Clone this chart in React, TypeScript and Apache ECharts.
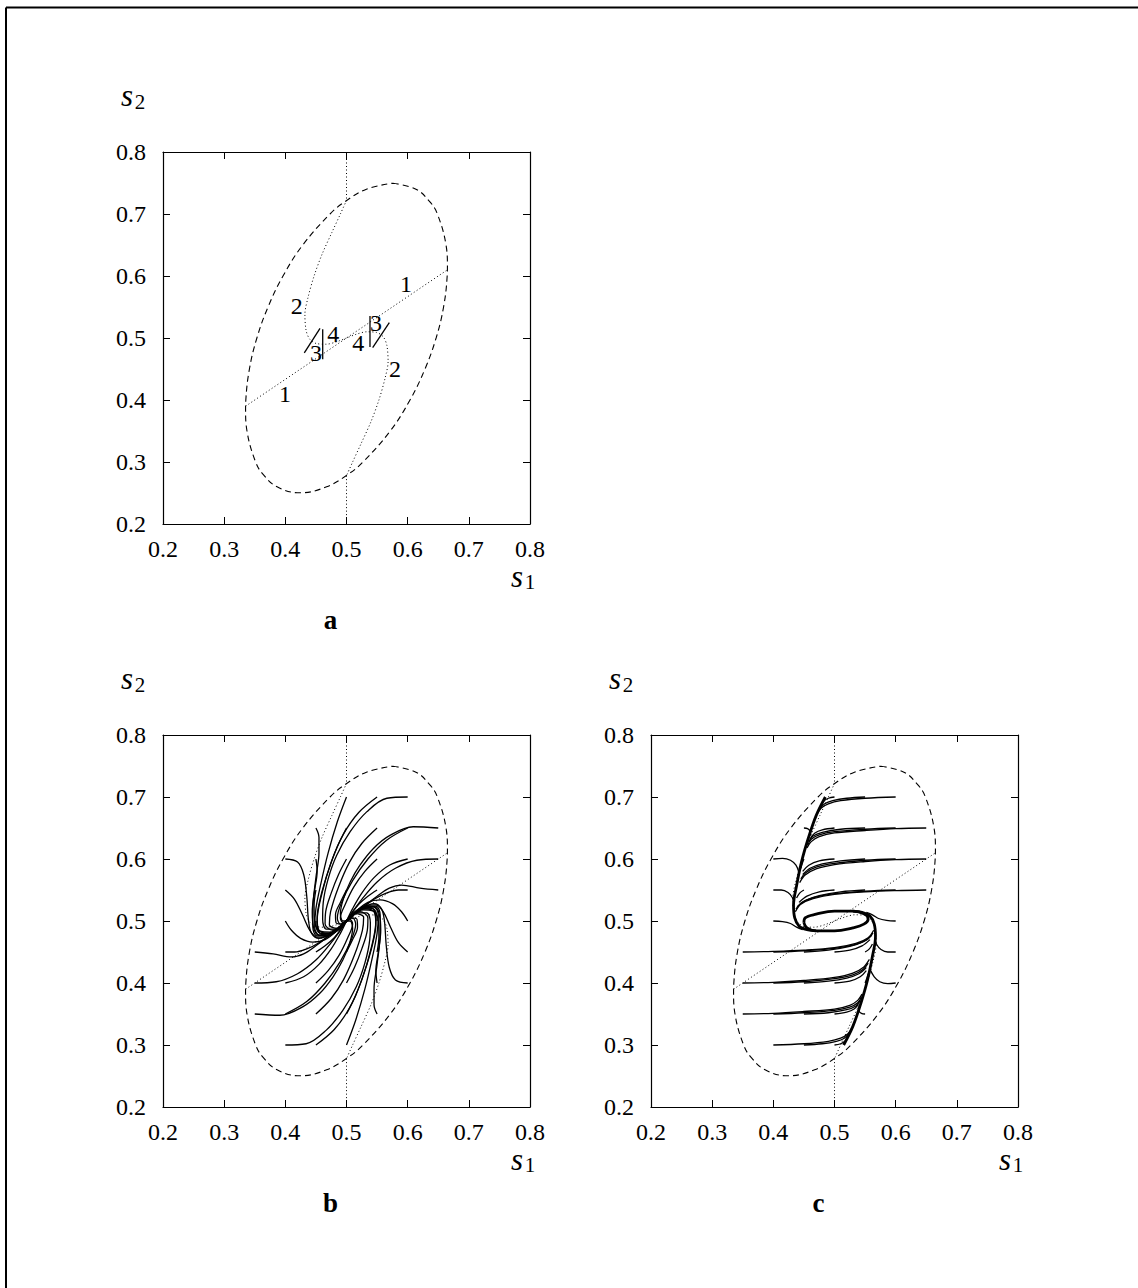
import React, { useEffect, useRef } from "react";
import * as echarts from "echarts";

type Pt = [number, number];

// Shared axis range of the three phase portraits
const AXIS_MIN = 0.2;
const AXIS_MAX = 0.8;
const AXIS_STEP = 0.1;

// Boundary of the admissible region (dashed ellipse)
const boundary: Pt[] = [
  [0.576, 0.7497], [0.6135, 0.74], [0.636, 0.72], [0.6486, 0.7], [0.6627, 0.65],
  [0.665, 0.615], [0.6646, 0.6], [0.6587, 0.55], [0.6465, 0.5], [0.6283, 0.45],
  [0.6038, 0.4], [0.5715, 0.35], [0.5269, 0.3], [0.5024, 0.28], [0.4675, 0.26],
  [0.424, 0.2503], [0.3865, 0.26], [0.3637, 0.28], [0.3514, 0.3], [0.3373, 0.35],
  [0.335, 0.385], [0.3354, 0.4], [0.3413, 0.45], [0.3535, 0.5], [0.3717, 0.55],
  [0.3962, 0.6], [0.4285, 0.65], [0.4731, 0.7], [0.4976, 0.72], [0.5325, 0.74],
  [0.576, 0.7497],
];

// Dotted reference curves
const verticalTop: Pt[] = [[0.5, 0.8], [0.5, 0.722]];
const verticalBottom: Pt[] = [[0.5, 0.278], [0.5, 0.2]];
const line1: Pt[] = [[0.335, 0.39], [0.665, 0.61]];
const curve2: Pt[] = [
  [0.5, 0.722], [0.49, 0.7], [0.476, 0.67], [0.46, 0.635], [0.447, 0.6],
  [0.437, 0.565], [0.432, 0.538], [0.434, 0.512], [0.44, 0.498], [0.451, 0.491],
  [0.467, 0.49], [0.484, 0.494], [0.5, 0.5], [0.516, 0.506], [0.533, 0.51],
  [0.549, 0.509], [0.56, 0.502], [0.566, 0.488], [0.568, 0.462], [0.563, 0.435],
  [0.553, 0.4], [0.54, 0.365], [0.524, 0.33], [0.51, 0.3], [0.5, 0.278],
];

// Short solid segments 3 and 4 (panel a)
const markerSegments: Pt[][] = [
  [[0.431, 0.476], [0.4567, 0.5156]],
  [[0.4611, 0.4656], [0.4611, 0.514]],
  [[0.5384, 0.4855], [0.5384, 0.5355]],
  [[0.5428, 0.4844], [0.57, 0.5247]],
];

// Curve numbers written in panel a
const curveLabels: [number, number, string][] = [
  [0.5973, 0.587, "1"],
  [0.3995, 0.4092, "1"],
  [0.4186, 0.5516, "2"],
  [0.5793, 0.4495, "2"],
  [0.4501, 0.4763, "3"],
  [0.5482, 0.5247, "3"],
  [0.4784, 0.506, "4"],
  [0.5193, 0.4924, "4"],
];

// Panel b: trajectories spiralling into the stable focus
const trajectoriesB: Pt[][] = [
  [[0.5, 0.7], [0.485, 0.66], [0.47, 0.61], [0.458, 0.56], [0.45, 0.52], [0.448, 0.49], [0.456, 0.477], [0.475, 0.479], [0.5, 0.5]],
  [[0.55, 0.7], [0.52, 0.675], [0.495, 0.64], [0.475, 0.595], [0.46, 0.545], [0.452, 0.5], [0.458, 0.48], [0.478, 0.481], [0.5, 0.5]],
  [[0.6, 0.7], [0.566, 0.698], [0.533, 0.676], [0.506, 0.644], [0.484, 0.606], [0.47, 0.568], [0.462, 0.53], [0.461, 0.503], [0.467, 0.487], [0.484, 0.487], [0.5, 0.5]],
  [[0.45, 0.65], [0.455, 0.635], [0.455, 0.61], [0.45, 0.57], [0.445, 0.52], [0.445, 0.49], [0.452, 0.476], [0.47, 0.476], [0.49, 0.49], [0.5, 0.5]],
  [[0.5, 0.65], [0.485, 0.62], [0.47, 0.58], [0.458, 0.54], [0.452, 0.505], [0.455, 0.485], [0.472, 0.48], [0.5, 0.5]],
  [[0.55, 0.65], [0.525, 0.625], [0.505, 0.595], [0.487, 0.555], [0.474, 0.515], [0.472, 0.494], [0.485, 0.488], [0.5, 0.5]],
  [[0.6, 0.65], [0.565, 0.63], [0.535, 0.6], [0.51, 0.565], [0.492, 0.53], [0.485, 0.505], [0.49, 0.495], [0.5, 0.5]],
  [[0.65, 0.65], [0.609, 0.652], [0.571, 0.638], [0.544, 0.617], [0.522, 0.59], [0.506, 0.563], [0.495, 0.536], [0.49, 0.512], [0.494, 0.5], [0.5, 0.5]],
  [[0.4, 0.6], [0.42, 0.595], [0.43, 0.575], [0.435, 0.54], [0.438, 0.5], [0.443, 0.48], [0.455, 0.472], [0.475, 0.48], [0.5, 0.5]],
  [[0.45, 0.6], [0.452, 0.58], [0.448, 0.55], [0.444, 0.515], [0.446, 0.49], [0.455, 0.477], [0.475, 0.479], [0.5, 0.5]],
  [[0.5, 0.6], [0.487, 0.575], [0.475, 0.545], [0.466, 0.515], [0.465, 0.495], [0.478, 0.485], [0.5, 0.5]],
  [[0.55, 0.6], [0.53, 0.58], [0.512, 0.555], [0.498, 0.527], [0.49, 0.505], [0.495, 0.497], [0.5, 0.5]],
  [[0.6, 0.6], [0.57, 0.59], [0.545, 0.57], [0.525, 0.545], [0.51, 0.52], [0.5, 0.5]],
  [[0.65, 0.6], [0.615, 0.598], [0.58, 0.585], [0.55, 0.563], [0.525, 0.535], [0.508, 0.512], [0.5, 0.5]],
  [[0.4, 0.55], [0.415, 0.535], [0.428, 0.51], [0.44, 0.485], [0.452, 0.474], [0.47, 0.476], [0.49, 0.49], [0.5, 0.5]],
  [[0.45, 0.55], [0.447, 0.525], [0.448, 0.5], [0.456, 0.484], [0.475, 0.482], [0.5, 0.5]],
  [[0.5, 0.55], [0.49, 0.53], [0.482, 0.51], [0.483, 0.497], [0.493, 0.495], [0.5, 0.5]],
  [[0.55, 0.55], [0.535, 0.54], [0.52, 0.527], [0.508, 0.512], [0.5, 0.5]],
  [[0.6, 0.55], [0.585, 0.55], [0.565, 0.545], [0.545, 0.535], [0.525, 0.52], [0.5, 0.5]],
  [[0.65, 0.55], [0.62, 0.553], [0.59, 0.558], [0.57, 0.553], [0.55, 0.54], [0.53, 0.525], [0.512, 0.51], [0.5, 0.5]],
  [[0.4, 0.5], [0.41, 0.485], [0.425, 0.472], [0.445, 0.466], [0.465, 0.47], [0.485, 0.485], [0.5, 0.5]],
  [[0.45, 0.5], [0.452, 0.485], [0.462, 0.478], [0.48, 0.484], [0.5, 0.5]],
  [[0.55, 0.5], [0.548, 0.515], [0.538, 0.522], [0.52, 0.516], [0.5, 0.5]],
  [[0.6, 0.5], [0.59, 0.515], [0.575, 0.528], [0.555, 0.534], [0.535, 0.53], [0.515, 0.515], [0.5, 0.5]],
  [[0.35, 0.45], [0.38, 0.447], [0.41, 0.442], [0.43, 0.447], [0.45, 0.46], [0.47, 0.475], [0.488, 0.49], [0.5, 0.5]],
  [[0.4, 0.45], [0.415, 0.45], [0.435, 0.455], [0.455, 0.465], [0.475, 0.48], [0.5, 0.5]],
  [[0.45, 0.45], [0.465, 0.46], [0.48, 0.473], [0.492, 0.488], [0.5, 0.5]],
  [[0.5, 0.45], [0.51, 0.47], [0.518, 0.49], [0.517, 0.503], [0.507, 0.505], [0.5, 0.5]],
  [[0.55, 0.45], [0.553, 0.475], [0.552, 0.5], [0.544, 0.516], [0.525, 0.518], [0.5, 0.5]],
  [[0.6, 0.45], [0.585, 0.465], [0.572, 0.49], [0.56, 0.515], [0.548, 0.526], [0.53, 0.524], [0.51, 0.51], [0.5, 0.5]],
  [[0.35, 0.4], [0.385, 0.402], [0.42, 0.415], [0.45, 0.437], [0.475, 0.465], [0.492, 0.488], [0.5, 0.5]],
  [[0.4, 0.4], [0.43, 0.41], [0.455, 0.43], [0.475, 0.455], [0.49, 0.48], [0.5, 0.5]],
  [[0.45, 0.4], [0.47, 0.42], [0.488, 0.445], [0.502, 0.473], [0.51, 0.495], [0.505, 0.503], [0.5, 0.5]],
  [[0.5, 0.4], [0.513, 0.425], [0.525, 0.455], [0.534, 0.485], [0.535, 0.505], [0.522, 0.515], [0.5, 0.5]],
  [[0.55, 0.4], [0.548, 0.42], [0.552, 0.45], [0.556, 0.485], [0.554, 0.51], [0.545, 0.523], [0.525, 0.521], [0.5, 0.5]],
  [[0.6, 0.4], [0.58, 0.405], [0.57, 0.425], [0.565, 0.46], [0.562, 0.5], [0.557, 0.52], [0.545, 0.528], [0.525, 0.52], [0.5, 0.5]],
  [[0.35, 0.35], [0.391, 0.348], [0.429, 0.362], [0.456, 0.383], [0.478, 0.41], [0.494, 0.437], [0.505, 0.464], [0.51, 0.488], [0.506, 0.5], [0.5, 0.5]],
  [[0.4, 0.35], [0.435, 0.37], [0.465, 0.4], [0.49, 0.435], [0.508, 0.47], [0.515, 0.495], [0.51, 0.505], [0.5, 0.5]],
  [[0.45, 0.35], [0.475, 0.375], [0.495, 0.405], [0.513, 0.445], [0.526, 0.485], [0.528, 0.506], [0.515, 0.512], [0.5, 0.5]],
  [[0.5, 0.35], [0.515, 0.38], [0.53, 0.42], [0.542, 0.46], [0.548, 0.495], [0.545, 0.515], [0.528, 0.52], [0.5, 0.5]],
  [[0.55, 0.35], [0.545, 0.365], [0.545, 0.39], [0.55, 0.43], [0.555, 0.48], [0.555, 0.51], [0.548, 0.524], [0.53, 0.524], [0.51, 0.51], [0.5, 0.5]],
  [[0.4, 0.3], [0.434, 0.302], [0.467, 0.324], [0.494, 0.356], [0.516, 0.394], [0.53, 0.432], [0.538, 0.47], [0.539, 0.497], [0.533, 0.513], [0.516, 0.513], [0.5, 0.5]],
  [[0.45, 0.3], [0.48, 0.325], [0.505, 0.36], [0.525, 0.405], [0.54, 0.455], [0.548, 0.5], [0.542, 0.52], [0.522, 0.519], [0.5, 0.5]],
  [[0.5, 0.3], [0.515, 0.34], [0.53, 0.39], [0.542, 0.44], [0.55, 0.48], [0.552, 0.51], [0.544, 0.523], [0.525, 0.521], [0.5, 0.5]],
];

// Panel c: thick slow manifold and limit cycle
const attractorUpper: Pt[] = [
  [0.485, 0.7], [0.47, 0.67], [0.457, 0.633], [0.446, 0.595], [0.438, 0.557],
  [0.433, 0.525], [0.435, 0.505], [0.442, 0.492], [0.455, 0.486], [0.47, 0.484],
];
const attractorLower: Pt[] = [
  [0.515, 0.3], [0.53, 0.33], [0.543, 0.367], [0.554, 0.405], [0.562, 0.443],
  [0.567, 0.475], [0.565, 0.495], [0.558, 0.508], [0.545, 0.514], [0.53, 0.516],
];
const limitCycle: Pt[] = [
  [0.45, 0.497], [0.455, 0.489], [0.47, 0.484], [0.5, 0.484], [0.53, 0.489],
  [0.548, 0.495], [0.555, 0.503], [0.55, 0.511], [0.53, 0.516], [0.5, 0.516],
  [0.47, 0.511], [0.452, 0.505], [0.45, 0.497],
];

// Panel c: trajectories relaxing onto the slow manifold
const trajectoriesC: Pt[][] = [
  [[0.6, 0.7], [0.55, 0.698], [0.51, 0.694], [0.49, 0.689], [0.478, 0.682], [0.472, 0.673]],
  [[0.55, 0.7], [0.52, 0.698], [0.497, 0.694], [0.484, 0.689], [0.476, 0.681]],
  [[0.5, 0.7], [0.49, 0.698], [0.483, 0.694], [0.479, 0.688]],
  [[0.65, 0.65], [0.6, 0.649], [0.55, 0.646], [0.5, 0.642], [0.475, 0.636], [0.462, 0.628], [0.455, 0.618]],
  [[0.6, 0.65], [0.55, 0.648], [0.5, 0.644], [0.475, 0.639], [0.462, 0.632], [0.456, 0.622]],
  [[0.55, 0.65], [0.51, 0.648], [0.48, 0.643], [0.465, 0.637], [0.458, 0.628]],
  [[0.5, 0.65], [0.48, 0.647], [0.468, 0.642], [0.461, 0.634]],
  [[0.45, 0.65], [0.456, 0.649], [0.46, 0.645], [0.461, 0.638]],
  [[0.65, 0.6], [0.6, 0.599], [0.55, 0.596], [0.5, 0.591], [0.47, 0.584], [0.452, 0.574], [0.443, 0.562]],
  [[0.6, 0.6], [0.55, 0.598], [0.5, 0.593], [0.47, 0.587], [0.453, 0.578], [0.445, 0.568]],
  [[0.55, 0.6], [0.51, 0.597], [0.48, 0.592], [0.46, 0.585], [0.448, 0.575]],
  [[0.5, 0.6], [0.475, 0.597], [0.458, 0.59], [0.448, 0.58]],
  [[0.45, 0.6], [0.447, 0.592], [0.445, 0.585]],
  [[0.4, 0.6], [0.415, 0.601], [0.428, 0.598], [0.437, 0.59], [0.442, 0.578]],
  [[0.65, 0.55], [0.6, 0.549], [0.55, 0.547], [0.5, 0.543], [0.465, 0.536], [0.445, 0.527], [0.436, 0.515]],
  [[0.6, 0.55], [0.55, 0.548], [0.5, 0.544], [0.467, 0.538], [0.447, 0.53], [0.437, 0.519]],
  [[0.55, 0.55], [0.51, 0.547], [0.475, 0.541], [0.452, 0.533], [0.439, 0.523]],
  [[0.5, 0.55], [0.475, 0.547], [0.455, 0.54], [0.442, 0.53]],
  [[0.45, 0.55], [0.443, 0.545], [0.438, 0.537]],
  [[0.4, 0.55], [0.413, 0.55], [0.424, 0.546], [0.431, 0.538], [0.434, 0.528]],
  [[0.4, 0.5], [0.415, 0.499], [0.428, 0.496], [0.438, 0.49], [0.448, 0.486]],
  [[0.6, 0.5], [0.585, 0.501], [0.572, 0.504], [0.562, 0.51], [0.552, 0.514]],
  [[0.35, 0.45], [0.4, 0.451], [0.45, 0.453], [0.5, 0.457], [0.535, 0.464], [0.555, 0.473], [0.564, 0.485]],
  [[0.4, 0.45], [0.45, 0.452], [0.5, 0.456], [0.533, 0.462], [0.553, 0.47], [0.563, 0.481]],
  [[0.45, 0.45], [0.49, 0.453], [0.525, 0.459], [0.548, 0.467], [0.561, 0.477]],
  [[0.5, 0.45], [0.525, 0.453], [0.545, 0.46], [0.558, 0.47]],
  [[0.55, 0.45], [0.557, 0.455], [0.562, 0.463]],
  [[0.6, 0.45], [0.587, 0.45], [0.576, 0.454], [0.569, 0.462], [0.566, 0.472]],
  [[0.35, 0.4], [0.4, 0.401], [0.45, 0.404], [0.5, 0.409], [0.53, 0.416], [0.548, 0.426], [0.557, 0.438]],
  [[0.4, 0.4], [0.45, 0.402], [0.5, 0.407], [0.53, 0.413], [0.547, 0.422], [0.555, 0.432]],
  [[0.45, 0.4], [0.49, 0.403], [0.52, 0.408], [0.54, 0.415], [0.552, 0.425]],
  [[0.5, 0.4], [0.525, 0.403], [0.542, 0.41], [0.552, 0.42]],
  [[0.55, 0.4], [0.553, 0.408], [0.555, 0.415]],
  [[0.6, 0.4], [0.587, 0.399], [0.574, 0.402], [0.565, 0.41], [0.558, 0.422]],
  [[0.35, 0.35], [0.4, 0.351], [0.45, 0.354], [0.5, 0.358], [0.525, 0.364], [0.538, 0.372], [0.545, 0.382]],
  [[0.4, 0.35], [0.45, 0.352], [0.5, 0.356], [0.525, 0.361], [0.538, 0.368], [0.544, 0.378]],
  [[0.45, 0.35], [0.49, 0.352], [0.52, 0.357], [0.535, 0.363], [0.542, 0.372]],
  [[0.5, 0.35], [0.52, 0.353], [0.532, 0.358], [0.539, 0.366]],
  [[0.55, 0.35], [0.544, 0.351], [0.54, 0.355], [0.539, 0.362]],
  [[0.4, 0.3], [0.45, 0.302], [0.49, 0.306], [0.51, 0.311], [0.522, 0.318], [0.528, 0.327]],
  [[0.45, 0.3], [0.48, 0.302], [0.503, 0.306], [0.516, 0.311], [0.524, 0.319]],
  [[0.5, 0.3], [0.51, 0.302], [0.517, 0.306], [0.521, 0.312]],
];

// Page layout
const PANELS = [
  { left: 163, top: 152, width: 367, height: 372, letter: "a" },
  { left: 163, top: 735, width: 367, height: 372, letter: "b" },
  { left: 651, top: 735, width: 367, height: 372, letter: "c" },
];
const SERIF = "Liberation Serif";
const BLACK = "#000";

const fmt = (v: number) => v.toFixed(1);

function curve(data: Pt[], g: number, lineStyle: any, smooth: number | boolean = 0.35, z = 3) {
  return {
    type: "line",
    xAxisIndex: 2 * g,
    yAxisIndex: 2 * g,
    data,
    symbol: "none",
    showSymbol: false,
    smooth,
    silent: true,
    clip: false,
    z,
    lineStyle,
  };
}

const DOTTED = { color: BLACK, width: 1, type: [1, 2.5] };
const DASHED = { color: BLACK, width: 1.1, type: [6, 4] };
const THIN = { color: BLACK, width: 1.3 };
const THICK = { color: BLACK, width: 2.8 };

function buildOption() {
  const grid = PANELS.map((p) => ({ left: p.left, top: p.top, width: p.width, height: p.height }));
  const xAxis: any[] = [];
  const yAxis: any[] = [];
  PANELS.forEach((_, g) => {
    const common = {
      type: "value",
      gridIndex: g,
      min: AXIS_MIN,
      max: AXIS_MAX,
      interval: AXIS_STEP,
      splitLine: { show: false },
      axisLine: { show: true, onZero: false, lineStyle: { color: BLACK, width: 1.2 } },
      axisTick: { show: true, inside: true, length: 7, lineStyle: { color: BLACK, width: 1 } },
    };
    const label = {
      show: true,
      fontFamily: SERIF,
      fontSize: 24,
      color: BLACK,
      formatter: fmt,
      showMinLabel: true,
      showMaxLabel: true,
    };
    xAxis.push({ ...common, position: "bottom", axisLabel: { ...label, margin: 13 } });
    xAxis.push({ ...common, position: "top", axisLabel: { show: false } });
    yAxis.push({ ...common, position: "left", axisLabel: { ...label, margin: 17 } });
    yAxis.push({ ...common, position: "right", axisLabel: { show: false } });
  });

  const series: any[] = [];
  PANELS.forEach((_, g) => {
    series.push(curve(verticalTop, g, DOTTED, false, 2));
    series.push(curve(verticalBottom, g, DOTTED, false, 2));
    series.push(curve(line1, g, DOTTED, false, 2));
    series.push(curve(curve2, g, DOTTED, 0.3, 2));
    series.push(curve(boundary, g, DASHED, 0.4, 2));
  });

  // panel a: markers and numbers
  markerSegments.forEach((seg) => series.push(curve(seg, 0, THIN, false)));
  series.push({
    type: "scatter",
    xAxisIndex: 0,
    yAxisIndex: 0,
    data: curveLabels,
    symbolSize: 1,
    silent: true,
    itemStyle: { color: "rgba(0,0,0,0)" },
    label: {
      show: true,
      position: "inside",
      formatter: (p: any) => p.value[2],
      fontFamily: SERIF,
      fontSize: 24,
      color: BLACK,
      opacity: 1,
      textBorderWidth: 0,
      textBorderColor: "transparent",
    },
    z: 5,
  });

  // panel b
  trajectoriesB.forEach((t) => series.push(curve(t, 1, THIN, 0.35)));

  // panel c
  trajectoriesC.forEach((t) => series.push(curve(t, 2, THIN, 0.35)));
  series.push(curve(attractorUpper, 2, THICK, 0.35, 4));
  series.push(curve(attractorLower, 2, THICK, 0.35, 4));
  series.push(curve(limitCycle, 2, THICK, 0.4, 4));

  const graphic: any[] = [
    { type: "line", shape: { x1: 6, y1: 7.5, x2: 1138, y2: 7.5 }, style: { stroke: BLACK, lineWidth: 2 } },
    { type: "line", shape: { x1: 6, y1: 7.5, x2: 6, y2: 1288 }, style: { stroke: BLACK, lineWidth: 2 } },
  ];
  const text = (t: string, x: number, y: number, size: number, extra: any = {}) => ({
    type: "text",
    x,
    y,
    style: {
      text: t,
      fontFamily: SERIF,
      fontSize: size,
      fill: BLACK,
      align: "center",
      verticalAlign: "middle",
      textAlign: "center",
      textVerticalAlign: "middle",
      ...extra,
    },
  });
  PANELS.forEach((p) => {
    const sx = p.left - 36;
    const sy = p.top - 57;
    graphic.push(text("s", sx, sy, 31, { fontStyle: "italic" }));
    graphic.push(text("2", sx + 13, sy + 7, 21));
    const tx = p.left + p.width - 13;
    const ty = p.top + p.height + 52;
    graphic.push(text("s", tx, ty, 31, { fontStyle: "italic" }));
    graphic.push(text("1", tx + 13, ty + 6, 21));
    graphic.push(text(p.letter, p.left + p.width / 2 - 16, p.top + p.height + 96, 27, { fontWeight: "bold" }));
  });

  return {
    animation: false,
    backgroundColor: "#fff",
    grid,
    xAxis,
    yAxis,
    series,
    graphic,
  };
}

export default function App() {
  const ref = useRef<HTMLDivElement>(null);
  useEffect(() => {
    if (!ref.current) return;
    const chart = echarts.init(ref.current, undefined, { renderer: "svg" });
    chart.setOption(buildOption() as any);
    return () => chart.dispose();
  }, []);
  return (
    <div
      ref={ref}
      style={{ position: "absolute", left: 0, top: 0, width: 1138, height: 1288, background: "#fff" }}
    />
  );
}
